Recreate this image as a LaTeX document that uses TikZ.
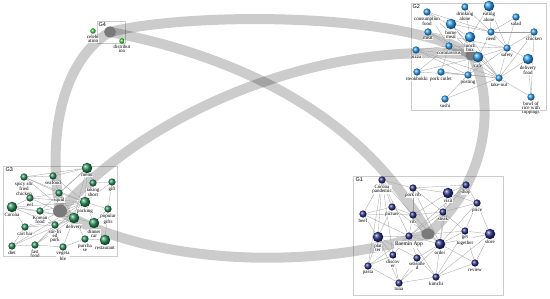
\documentclass[tikz,border=0pt]{standalone}
\usepackage{fontspec}
\setmainfont{Liberation Serif}
\newfontfamily\grpfont{Liberation Sans}
\usetikzlibrary{positioning,shapes.geometric}
\definecolor{navyball}{rgb}{0.15, 0.19, 0.52}
\definecolor{skyball}{rgb}{0.16, 0.60, 0.92}
\definecolor{forestball}{rgb}{0.15, 0.55, 0.33}
\definecolor{limeball}{rgb}{0.20, 0.82, 0.20}
\pgfdeclarelayer{back}
\pgfdeclarelayer{links}
\pgfsetlayers{back,links,main}
\tikzset{
  ball/.style={
    circle,
    inner sep=0pt,
    minimum size=7.3pt,
    shade,
    draw=none
  },
  bigball/.style={
    ball,
    minimum size=10.5pt
  },
  b1/.style={ball, ball color=navyball},
  B1/.style={bigball, ball color=navyball},
  b2/.style={ball, ball color=skyball},
  B2/.style={bigball, ball color=skyball},
  b3/.style={ball, ball color=forestball},
  B3/.style={bigball, ball color=forestball},
  b4/.style={ball, minimum size=5.5pt, ball color=limeball},
  lbl/.style={
    font=\fontsize{5}{4.2}\selectfont,
    align=center,
    fill=white,
    fill opacity=0.85,
    text opacity=1,
    inner sep=0.3pt
  },
  hub/.style={
    ellipse,
    fill=black!52,
    minimum width=13pt,
    minimum height=11pt,
    inner sep=0pt
  },
  band/.style={
    line width=10pt,
    draw=black,
    draw opacity=0.2
  },
  grp/.style={
    draw=black!20,
    line width=0.4pt
  },
  gname/.style={
    font=\grpfont\fontsize{5.5}{5.5}\selectfont,
    inner sep=0.5pt,
    anchor=north west
  },
  edge/.style={
    draw=black!38,
    line width=0.3pt
  }
}
% ball with its label below
\newcommand{\kword}[4]{%
  \node[#1] (#2) at (#3) {};
  \node[lbl, below=0.6pt of #2] (#2-l) {#4};}

\begin{document}
\begin{tikzpicture}[x=1pt,y=-1pt]
\useasboundingbox (0,0) rectangle (550,299);

% hubs
\node[hub] (h1) at (428,234) {};
\node[hub] (h2) at (472,55) {};
\node[hub, minimum width=14pt, minimum height=13pt] (h3) at (60,211) {};
\node[hub, minimum width=12pt, minimum height=11pt] (h4) at (110,32) {};

% group names
\node[gname] (g1n) at (355,177) {G1};
\node[gname] (g2n) at (412,4) {G2};
\node[gname] (g3n) at (5,167) {G3};
\node[gname] (g4n) at (98,22) {G4};

% G4
\kword{b4}{fest}{93,31}{celebr\\ation}
\kword{b4}{distr}{122,41}{distribut\\ion}

% G2
\kword{b2}{cons}{427,12}{consumption\\food}
\kword{b2}{drink}{465,7}{drinking\\alone}
\kword{B2}{eat}{489,6}{eating\\alone}
\kword{b2}{salad}{516,17}{salad}
\kword{B2}{home}{451,24}{home\\meal}
\kword{b2}{meat}{428,32}{meat}
\kword{b2}{need}{491,32}{need}
\kword{b2}{chick}{534,32}{chicken}
\kword{B2}{lunch}{470,37}{lunch\\box}
\kword{b2}{corv}{449,46}{coronavirus}
\kword{b2}{safety}{507,48}{safety}
\kword{b2}{pizza}{416,50}{pizza}
\kword{B2}{cafe}{478,57}{cafe}
\kword{B2}{delf}{528,59}{delivery\\food}
\kword{b2}{tteok}{417,72}{tteokbokki}
\kword{b2}{cutlet}{441,72}{pork cutlet}
\kword{b2}{post}{468,75}{posting}
\kword{b2}{take}{499,78}{take-out}
\kword{b2}{sushi}{445,99}{sushi}
\kword{b2}{bowl}{531,97}{bowl of\\rice with\\toppings}

% G3
\kword{B3}{menu}{87,168}{menu}
\kword{b3}{spicy}{24,177}{spicy stir\\fried\\chicken}
\kword{b3}{seafood}{53,176}{seafood}
\kword{b3}{taking}{93,183}{taking\\short}
\kword{b3}{gift}{112,182}{gift}
\kword{b3}{eel}{30,198}{eel}
\kword{b3}{squid}{59,193}{squid}
\kword{B3}{corona}{12,207}{Corona}
\kword{b3}{korean}{40,211}{Korean\\food}
\kword{B3}{packing}{85,202}{packing}
\kword{b3}{popular}{108,209}{popular\\gifts}
\kword{B3}{deliv}{74,218}{delivery}
\kword{B3}{dinner}{94,223}{dinner\\car}
\kword{b3}{cart}{25,227}{cart bar}
\kword{b3}{stir}{55,225}{stir-fri\\ed\\pork}
\kword{b3}{purch}{85,239}{purcha\\se}
\kword{B3}{rest}{105,240}{restaurant}
\kword{b3}{diet}{12,246}{diet}
\kword{b3}{fast}{35,245}{fast\\food}
\kword{b3}{veg}{63,247}{vegeta\\ble}

% G1
\kword{b1}{cpand}{382,180}{Corona\\pandemic}
\kword{b1}{porkrib}{413,188}{pork rib}
\kword{b1}{shop}{466,185}{shop}
\kword{B1}{visit}{448,193}{visit}
\kword{b1}{price}{477,203}{price}
\kword{b1}{picture}{392,207}{picture}
\kword{b1}{beef}{363,214}{beef}
\kword{b1}{rib}{413,215}{rib}
\kword{b1}{steak}{443,212}{steak}
\kword{b1}{gett}{465,231}{get\\together}
\kword{B1}{store}{490,234}{store}
\kword{B1}{plat}{378,237}{plat\\ter}
\node[b1] (baemin) at (409,236) {};
\node[lbl, font=\fontsize{5.5}{5}\selectfont, inner sep=1.2pt, below=0.5pt of baemin] (baemin-l) {Baemin App};
\kword{B1}{order}{440,244}{order}
\kword{b1}{discov}{393,255}{discov\\er}
\kword{b1}{season}{417,258}{seasone\\d}
\kword{b1}{review}{475,263}{review}
\kword{b1}{pasta}{368,266}{pasta}
\kword{b1}{kimchi}{436,277}{kimchi}
\kword{b1}{tuna}{399,283}{tuna}

\begin{pgfonlayer}{back}
% group boxes
\draw[grp] (353,176) rectangle (503,295);
\draw[grp] (411,3) rectangle (546,110);
\draw[grp] (3,166) rectangle (117,256);
\draw[grp] (97,21) rectangle (125,43);
% links between groups
\draw[band] (h4.center) .. controls (190,12) and (405,12) .. (h2.center);
\draw[band] (h4.center) .. controls (230,55) and (360,110) .. (h1.center);
\draw[band] (h4.center) .. controls (70,55) and (45,120) .. (h3.center);
\draw[band] (h3.center) .. controls (150,110) and (320,40) .. (h2.center);
\draw[band] (h3.center) .. controls (140,260) and (300,275) .. (h1.center);
\draw[band] (h2.center) .. controls (495,100) and (490,180) .. (h1.center);
\end{pgfonlayer}

\begin{pgfonlayer}{links}
% G2 edges
\foreach \a/\b in {cons/lunch, cons/corv, cons/need, cons/cafe, drink/need, drink/lunch,
  eat/need, eat/safety, eat/lunch, salad/need, salad/safety, home/corv, home/cafe,
  home/need, home/take, meat/corv, meat/cafe, meat/safety, need/cafe, need/safety,
  need/chick, chick/safety, chick/take, lunch/cafe, lunch/take, lunch/post,
  corv/pizza, corv/cafe, corv/take, corv/tteok, corv/cutlet, corv/safety,
  safety/take, safety/cafe, safety/post, pizza/cafe, pizza/post, pizza/take,
  delf/take, delf/safety, delf/bowl, cafe/post, cafe/take, tteok/post, tteok/cafe,
  cutlet/post, cutlet/take, post/take, post/sushi, sushi/take, bowl/take, bowl/chick}
  \draw[edge] (\a) -- (\b);
% G3 edges
\foreach \a/\b in {spicy/seafood, spicy/squid, spicy/packing, spicy/menu, spicy/deliv,
  seafood/menu, seafood/squid, seafood/packing, menu/taking, menu/squid, menu/packing,
  menu/korean, menu/deliv, taking/gift, taking/packing, gift/packing, gift/popular,
  eel/squid, eel/packing, eel/deliv, eel/corona, squid/packing, squid/deliv,
  corona/korean, corona/deliv, corona/packing, corona/cart, corona/stir,
  korean/packing, korean/deliv, korean/stir, packing/popular, packing/dinner,
  packing/deliv, popular/dinner, popular/rest, deliv/dinner, deliv/stir, deliv/purch,
  deliv/veg, dinner/rest, dinner/purch, cart/deliv, cart/stir, cart/diet, stir/fast,
  stir/veg, purch/rest, diet/fast, diet/deliv, fast/deliv, fast/veg, veg/purch,
  diet/packing, fast/packing, cart/packing}
  \draw[edge] (\a) -- (\b);
% G1 edges
\foreach \a/\b in {cpand/porkrib, cpand/picture, cpand/beef, cpand/plat, cpand/rib,
  cpand/baemin, cpand/pasta, cpand/discov, porkrib/visit, porkrib/shop, porkrib/rib,
  porkrib/steak, porkrib/order, shop/visit, shop/price, shop/steak, shop/baemin,
  visit/steak, visit/rib, visit/order, visit/price, price/steak, price/gett,
  price/store, price/order, picture/beef, picture/rib, picture/plat, picture/order,
  beef/plat, beef/rib, beef/baemin, rib/steak, rib/order, rib/baemin, steak/gett,
  steak/baemin, steak/order, gett/store, gett/order, gett/review, gett/baemin,
  store/review, store/order, store/kimchi, plat/baemin, plat/pasta, plat/tuna,
  plat/discov, plat/season, baemin/order, baemin/season, baemin/discov,
  baemin/kimchi, order/review, order/kimchi, order/season, discov/tuna,
  discov/pasta, season/tuna, season/kimchi, review/kimchi, pasta/tuna, tuna/kimchi,
  tuna/order, pasta/baemin, kimchi/gett}
  \draw[edge] (\a) -- (\b);
\end{pgfonlayer}
\end{tikzpicture}
\end{document}
